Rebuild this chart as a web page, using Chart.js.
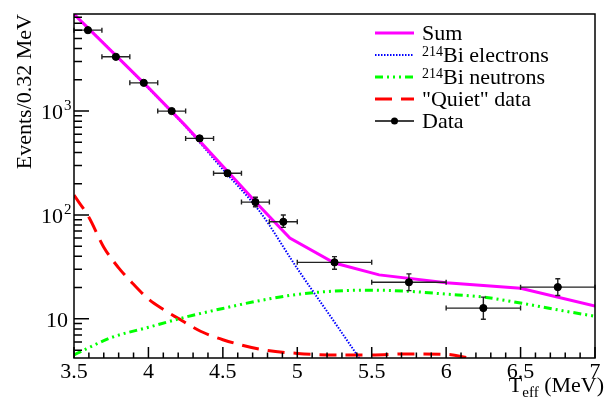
<!DOCTYPE html>
<html>
<head>
<meta charset="utf-8">
<script src="https://cdn.jsdelivr.net/npm/chart.js@4.4.0/dist/chart.umd.min.js"></script>
<style>
  html, body { margin: 0; padding: 0; background: #fff; }
</style>
</head>
<body>
<canvas id="spectrum" width="612" height="403"></canvas>
<script>
// measured points: bin centres, half widths, counts and asymmetric errors
const binCenters = [3.59375, 3.78125, 3.96875, 4.15625, 4.34375, 4.53125, 4.71875, 4.90625, 5.25, 5.75, 6.25, 6.75];
const binHalfWidths = [0.09375, 0.09375, 0.09375, 0.09375, 0.09375, 0.09375, 0.09375, 0.09375, 0.25, 0.25, 0.25, 0.25];
const counts = [6010, 3330, 1870, 1000, 546, 252, 133, 86, 35, 22.5, 12.7, 20.2];
const errUp = [78, 58, 43, 32, 23, 16, 15, 14, 4.7, 4.6, 3.5, 4.1];
const errDown = [78, 58, 43, 32, 23, 16, 13, 10, 5, 3.8, 2.8, 3.4];

// fit components
const sumX = [3.5, 3.75, 4.0, 4.25, 4.5, 4.75, 4.95, 5.25, 5.55, 6.0, 6.5, 7.0];
const sumY = [8570, 3800, 1680, 720, 295, 120, 60, 34.5, 26.5, 22.3, 19.7, 13.3];
const electronsX = [3.5, 3.75, 4.0, 4.25, 4.5, 4.75, 5.0, 5.25, 5.5];
const electronsY = [8570, 3800, 1660, 708, 275, 107, 30.5, 9.3, 2.8];
const neutronsX = [3.5, 3.75, 4.0, 4.25, 4.5, 4.75, 5.0, 5.25, 5.5, 5.75, 6.0, 6.25, 6.5, 6.75, 7.0];
const neutronsY = [4.5, 6.6, 8.3, 10.4, 12.6, 15.0, 17.2, 18.5, 18.9, 18.4, 17.3, 16.2, 14.2, 12.2, 10.6];
const quietX = [3.5, 3.6, 3.7, 3.8, 3.9, 4.0, 4.1, 4.2, 4.35, 4.5, 4.75, 5.0, 5.25, 5.5, 5.75, 6.0, 6.1, 6.2, 6.3];
const quietY = [155, 95, 49, 31, 21.5, 15.5, 12.3, 10.1, 7.6, 6.3, 5.1, 4.65, 4.5, 4.5, 4.6, 4.55, 4.35, 4.0, 3.6];

// axes
const xTickValues = [3.5, 4, 4.5, 5, 5.5, 6, 6.5, 7];
const xTickLabels = ['3.5', '4', '4.5', '5', '5.5', '6', '6.5', '7'];
const yTickValues = [10, 100, 1000];
const yTickBase = ['10', '10', '10'];
const yTickExp = ['', '2', '3'];

// legend rows: [superscript, text, dataset index]
const legendRows = [['', 'Sum', 1], ['214', 'Bi electrons', 2], ['214', 'Bi neutrons', 3], ['', '"Quiet" data', 4], ['', 'Data', 0]];

const serif = 'Liberation Serif';
const pts = (xs, ys) => xs.map((x, i) => ({ x, y: ys[i] }));

const errorBars = {
    id: 'errorBars',
    beforeDatasetDraw(chart, args) {
        if (args.index !== 0) return;
        const ctx = chart.ctx, xs = chart.scales.x, ys = chart.scales.y;
        ctx.save();
        ctx.strokeStyle = '#222';
        ctx.lineWidth = 1.4;
        binCenters.forEach((c, i) => {
            const px = xs.getPixelForValue(c);
            const py = ys.getPixelForValue(counts[i]);
            const xl = xs.getPixelForValue(c - binHalfWidths[i]);
            const xr = xs.getPixelForValue(c + binHalfWidths[i]);
            const yt = ys.getPixelForValue(counts[i] + errUp[i]);
            const yb = ys.getPixelForValue(counts[i] - errDown[i]);
            ctx.beginPath();
            ctx.moveTo(xl, py); ctx.lineTo(xr, py);
            ctx.moveTo(xl, py - 2.5); ctx.lineTo(xl, py + 2.5);
            ctx.moveTo(xr, py - 2.5); ctx.lineTo(xr, py + 2.5);
            ctx.moveTo(px, yt); ctx.lineTo(px, yb);
            ctx.moveTo(px - 2.5, yt); ctx.lineTo(px + 2.5, yt);
            ctx.moveTo(px - 2.5, yb); ctx.lineTo(px + 2.5, yb);
            ctx.stroke();
        });
        ctx.restore();
    }
};

const frameAndTicks = {
    id: 'frameAndTicks',
    afterDraw(chart) {
        const ctx = chart.ctx, a = chart.chartArea, xs = chart.scales.x, ys = chart.scales.y;
        ctx.save();
        ctx.strokeStyle = '#000';
        ctx.lineWidth = 1.5;
        ctx.strokeRect(a.left, a.top, a.right - a.left, a.bottom - a.top);
        ctx.beginPath();
        for (let i = 35; i <= 70; i++) {
            const px = xs.getPixelForValue(i / 10);
            const len = i % 5 === 0 ? 11 : 5.5;
            ctx.moveTo(px, a.bottom); ctx.lineTo(px, a.bottom - len);
        }
        for (let d = 1; d <= 1000; d *= 10) {
            for (let m = 1; m <= 9; m++) {
                const v = m * d;
                if (v < ys.min || v > ys.max) continue;
                const py = ys.getPixelForValue(v);
                ctx.moveTo(a.left, py); ctx.lineTo(a.left + (m === 1 ? 15 : 8), py);
            }
        }
        ctx.stroke();

        // y tick labels as powers of ten, placed from the scale's own ticks
        ctx.fillStyle = '#000';
        ctx.textBaseline = 'alphabetic';
        ctx.textAlign = 'right';
        ys.ticks.forEach(t => {
            const k = yTickValues.indexOf(t.value);
            if (k < 0) return;
            const py = ys.getPixelForValue(t.value);
            ctx.font = `22px "${serif}"`;
            if (yTickExp[k]) {
                ctx.fillText(yTickBase[k], a.left - 11, py + 8);
                ctx.font = `15px "${serif}"`;
                ctx.fillText(yTickExp[k], a.left - 2.5, py - 1);
            } else {
                ctx.fillText(yTickBase[k], a.left - 6, py + 8);
            }
        });

        // axis titles
        ctx.font = `22px "${serif}"`;
        const tail = ' (MeV)';
        const wTail = ctx.measureText(tail).width;
        const wT = ctx.measureText('T').width;
        ctx.font = `15px "${serif}"`;
        const wSub = ctx.measureText('eff').width;
        const x = 604 - wTail - wSub - wT;
        ctx.textAlign = 'left';
        ctx.font = `22px "${serif}"`;
        ctx.fillText('T', x, 392);
        ctx.font = `15px "${serif}"`;
        ctx.fillText('eff', x + wT, 397);
        ctx.font = `22px "${serif}"`;
        ctx.fillText(tail, x + wT + wSub, 392);

        ctx.save();
        ctx.translate(30.5, 14);
        ctx.rotate(-Math.PI / 2);
        ctx.textAlign = 'right';
        ctx.fillText('Events/0.32 MeV', 0, 0);
        ctx.restore();
        ctx.restore();
    }
};

const rootLegend = {
    id: 'rootLegend',
    afterDraw(chart) {
        const ctx = chart.ctx;
        const x0 = 375, x1 = 414, tx = 422;
        legendRows.forEach(([sup, text, dsIndex], i) => {
            const ds = chart.data.datasets[dsIndex];
            const y = 33 + i * 22;
            ctx.save();
            ctx.beginPath();
            ctx.strokeStyle = dsIndex === 0 ? '#000' : ds.borderColor;
            ctx.lineWidth = dsIndex === 0 ? 1.4 : ds.borderWidth;
            ctx.setLineDash(ds.borderDash || []);
            ctx.moveTo(x0, y); ctx.lineTo(x1, y);
            ctx.stroke();
            if (dsIndex === 0) {
                ctx.fillStyle = '#000';
                ctx.beginPath();
                ctx.arc((x0 + x1) / 2, y, 3.5, 0, Math.PI * 2);
                ctx.fill();
            }
            ctx.fillStyle = '#000';
            ctx.textAlign = 'left';
            ctx.textBaseline = 'alphabetic';
            let x = tx;
            if (sup) {
                ctx.font = `14px "${serif}"`;
                ctx.fillText(sup, x, y + 1);
                x += ctx.measureText(sup).width;
            }
            ctx.font = `22px "${serif}"`;
            ctx.fillText(text, x, y + 7);
            ctx.restore();
        });
    }
};

new Chart(document.getElementById('spectrum'), {
    type: 'line',
    data: {
        datasets: [
            {
                label: 'Data',
                data: pts(binCenters, counts),
                showLine: false,
                pointRadius: 3.6,
                pointBackgroundColor: '#000',
                pointBorderColor: '#000',
                borderColor: '#000',
            },
            {
                label: 'Sum',
                data: pts(sumX, sumY),
                borderColor: '#ff00ff',
                borderWidth: 3,
                pointRadius: 0,
                tension: 0,
            },
            {
                label: '214Bi electrons',
                data: pts(electronsX, electronsY),
                borderColor: '#0000ff',
                borderWidth: 2,
                borderDash: [1.5, 1.5],
                pointRadius: 0,
                cubicInterpolationMode: 'monotone',
            },
            {
                label: '214Bi neutrons',
                data: pts(neutronsX, neutronsY),
                borderColor: '#00ff00',
                borderWidth: 3,
                borderDash: [8, 4, 2, 4, 2, 4, 2, 4],
                pointRadius: 0,
                cubicInterpolationMode: 'monotone',
            },
            {
                label: '"Quiet" data',
                data: pts(quietX, quietY),
                borderColor: '#ff0000',
                borderWidth: 3,
                borderDash: [17, 9],
                pointRadius: 0,
                cubicInterpolationMode: 'monotone',
            },
        ],
    },
    options: {
        responsive: false,
        animation: false,
        layout: { padding: { left: 0, top: 14, right: 17, bottom: 0 } },
        plugins: { legend: { display: false }, tooltip: { enabled: false } },
        scales: {
            x: {
                type: 'linear',
                min: 3.5,
                max: 7,
                grid: { display: false, drawTicks: false },
                border: { display: false },
                afterBuildTicks: s => { s.ticks = xTickValues.map(v => ({ value: v })); },
                afterFit: s => { s.height = 45; },
                ticks: {
                    autoSkip: false,
                    maxRotation: 0,
                    padding: 1,
                    color: '#000',
                    font: { family: serif, size: 22 },
                    callback: v => xTickLabels[xTickValues.indexOf(v)],
                },
            },
            y: {
                type: 'logarithmic',
                min: 4.2,
                max: 8600,
                grid: { display: false, drawTicks: false },
                border: { display: false },
                afterBuildTicks: s => { s.ticks = yTickValues.map(v => ({ value: v })); },
                afterFit: s => { s.width = 74; },
                ticks: { display: false },
            },
        },
    },
    plugins: [errorBars, frameAndTicks, rootLegend],
});
</script>
</body>
</html>
